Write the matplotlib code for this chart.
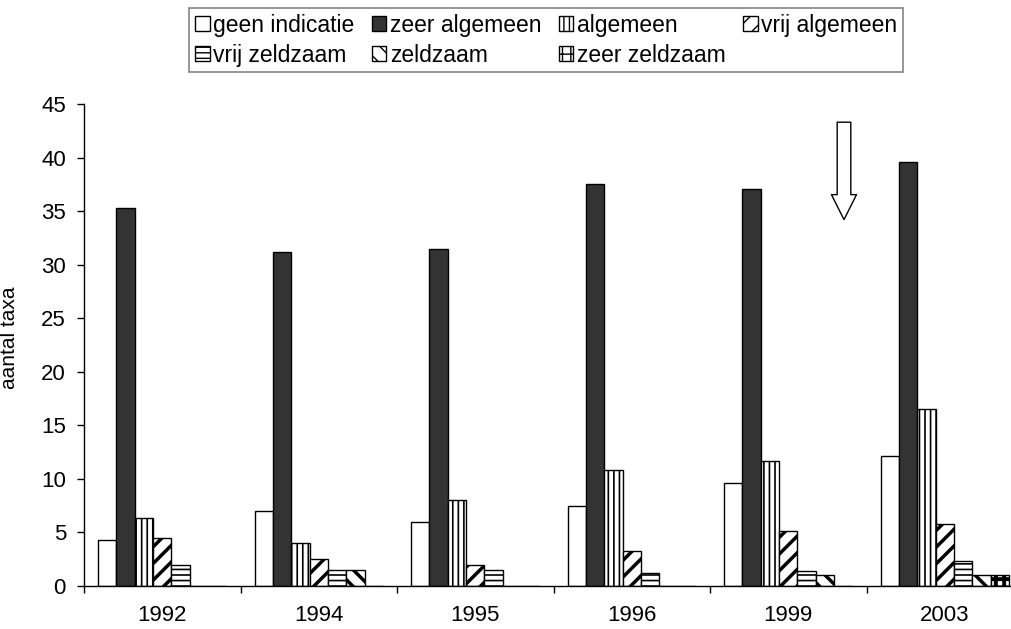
import matplotlib
matplotlib.use("Agg")
import matplotlib.pyplot as plt
import numpy as np

years = ["1992", "1994", "1995", "1996", "1999", "2003"]
categories = ["geen indicatie", "zeer algemeen", "algemeen", "vrij algemeen",
              "vrij zeldzaam", "zeldzaam", "zeer zeldzaam"]

geen_indicatie = [4.3, 7.0, 6.0, 7.5, 9.6, 12.1]
zeer_algemeen = [35.3, 31.2, 31.5, 37.5, 37.1, 39.6]
algemeen = [6.3, 4.0, 8.0, 10.8, 11.7, 16.5]
vrij_algemeen = [4.5, 2.5, 2.0, 3.3, 5.1, 5.8]
vrij_zeldzaam = [2.0, 1.5, 1.5, 1.2, 1.4, 2.3]
zeldzaam = [0, 1.5, 0, 0, 1.0, 1.0]
zeer_zeldzaam = [0, 0, 0, 0, 0, 1.0]

series = [geen_indicatie, zeer_algemeen, algemeen, vrij_algemeen,
          vrij_zeldzaam, zeldzaam, zeer_zeldzaam]

# (facecolor, hatch, hatch linewidth)
styles = [
    ("white", None, 1.0),
    ("#333333", None, 1.0),
    ("white", "|||", 1.2),
    ("white", "//", 2.5),
    ("white", "---", 1.2),
    ("white", "\\\\", 2.5),
    ("white", "++", 2.8),
]

plt.rcParams["font.family"] = ["Liberation Sans", "DejaVu Sans"]

fig = plt.figure(figsize=(10.11, 6.29), dpi=100)
ax = fig.add_axes([0.0831, 0.0684, 0.9288, 0.7663])

x = np.arange(len(years))
w = 0.117
handles = []
for i, (vals, (fc, hatch, hlw)) in enumerate(zip(series, styles)):
    bars = ax.bar(x + (i - 3) * w, vals, w, facecolor=fc, edgecolor="black",
                  linewidth=1.0, hatch=hatch, label=categories[i])
    for b in bars:
        if hasattr(b, "set_hatch_linewidth"):
            b.set_hatch_linewidth(hlw)
    handles.append(bars)

ax.set_xlim(-0.5, len(years) - 0.5)
ax.set_ylim(0, 45)
ax.set_yticks(np.arange(0, 46, 5))

# group boundary ticks, labels in the middle
ax.set_xticks(np.arange(-0.5, len(years), 1.0))
ax.set_xticklabels([])
ax.set_xticks(x, minor=True)
ax.set_xticklabels(years, minor=True)
ax.tick_params(axis="x", which="major", direction="out", length=5, width=1)
ax.tick_params(axis="x", which="minor", length=0, pad=14, labelsize=16)
ax.tick_params(axis="y", direction="out", length=5, width=1, pad=8, labelsize=16)

for s in ("top", "right"):
    ax.spines[s].set_visible(False)
for s in ("left", "bottom"):
    ax.spines[s].set_linewidth(1.0)

ax.set_ylabel("aantal taxa", fontsize=15)
ax.yaxis.set_label_coords(-0.069, 0.515)

# hollow arrow
ax.annotate("", xy=(4.356, 34.2), xytext=(4.356, 43.3),
            arrowprops=dict(arrowstyle="simple,head_length=1.8,head_width=1.8,tail_width=0.98",
                            fc="white", ec="black", lw=1.0, mutation_scale=10,
                            shrinkA=0, shrinkB=0))

# legend laid out row by row (matplotlib fills columns first)
order = [0, 4, 1, 5, 2, 6, 3]
leg = fig.legend([handles[k] for k in order], [categories[k] for k in order],
                 ncol=4, loc="upper left", bbox_to_anchor=(189 / 1011, 1 - 8 / 629),
                 bbox_transform=fig.transFigure, fontsize=16.5, frameon=True,
                 fancybox=False, edgecolor="#666666", handlelength=0.65,
                 handleheight=0.65, handletextpad=0.15, columnspacing=0.75,
                 labelspacing=0.3, borderpad=0.25, borderaxespad=0)
leg.get_frame().set_linewidth(1.2)

fig.savefig("out.png", dpi=100)
